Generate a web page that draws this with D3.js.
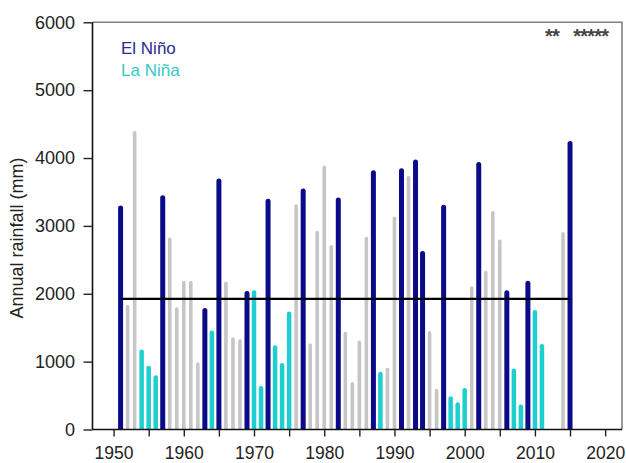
<!DOCTYPE html>
<html>
<head>
<meta charset="utf-8">
<script src="https://cdn.jsdelivr.net/npm/d3@7"></script>
<style>
  html, body { margin: 0; padding: 0; background: #fff; }
  svg { display: block; font-family: "Liberation Sans", Arial, Helvetica, sans-serif; }
</style>
</head>
<body>
<svg id="chart" width="626" height="463"></svg>
<script>
// ---- Data ----
const years = [1951,1952,1953,1954,1955,1956,1957,1958,1959,1960,1961,1962,1963,1964,1965,1966,1967,1968,1969,1970,
  1971,1972,1973,1974,1975,1976,1977,1978,1979,1980,1981,1982,1983,1984,1985,1986,1987,1988,1989,1990,
  1991,1992,1993,1994,1995,1996,1997,1998,1999,2000,2001,2002,2003,2004,2005,2006,2007,2008,2009,2010,
  2011,2014,2015];
const rainfall = [3300,1840,4400,1180,940,800,3450,2830,1800,2190,2190,990,1790,1460,3700,2180,1360,1330,2040,2050,
  640,3400,1240,980,1740,3320,3550,1270,2930,3890,2720,3420,1440,700,1310,2840,3820,850,910,3140,
  3850,3740,3980,2630,1450,600,3310,490,400,610,2110,3940,2340,3220,2800,2050,900,370,2190,1760,
  1260,2910,4250];
// E = El Niño, L = La Niña, N = neutral
const phase = ["E","N","N","L","L","L","E","N","N","N","N","N","E","L","E","N","N","N","E","L",
  "L","E","L","L","L","N","E","N","N","N","N","E","N","N","N","N","E","L","N","N",
  "E","N","E","E","N","N","E","L","L","L","N","E","N","N","N","E","L","L","E","L",
  "L","N","E"];
const missingYears = [2012,2013,2016,2017,2018,2019,2020];
const meanRainfall = 1925;
const meanSpan = [1951, 2015];
const yTicks = [0,1000,2000,3000,4000,5000,6000];
const xTicks = [1950,1955,1960,1965,1970,1975,1980,1985,1990,1995,2000,2005,2010,2015,2020];
const legendLabels = ["El Niño","La Niña"];

// ---- Layout ----
const svg = d3.select("#chart");
const L = 92.5, R = 622, T = 22.3, B = 429.5;
const x = d3.scaleLinear().domain([1947, 2022.4]).range([L, R]);
const y = d3.scaleLinear().domain([0, 6000]).range([B, T]);

const colors = { E: "#0b0b8a", L: "#1fcfcf", N: "#c6c6c6" };
const widths = { E: 5, L: 4.5, N: 3.6 };

svg.append("defs").append("clipPath").attr("id", "plotclip")
  .append("rect").attr("x", L).attr("y", 0).attr("width", R - L).attr("height", B);

// Bars
const data = years.map((yr, i) => ({ year: yr, v: rainfall[i], p: phase[i] }));
svg.append("g").attr("clip-path", "url(#plotclip)")
  .selectAll("rect").data(data).join("rect")
  .attr("x", d => x(d.year) - widths[d.p] / 2)
  .attr("y", d => y(d.v))
  .attr("width", d => widths[d.p])
  .attr("height", d => B - y(d.v) + 6)
  .attr("rx", d => widths[d.p] / 2)
  .attr("fill", d => colors[d.p]);

// Mean line
svg.append("line")
  .attr("x1", x(meanSpan[0])).attr("x2", x(meanSpan[1]))
  .attr("y1", y(meanRainfall)).attr("y2", y(meanRainfall))
  .attr("stroke", "#000").attr("stroke-width", 2.2);

// Frame (top and right)
svg.append("path")
  .attr("d", `M${L},${T}H${R}V${B}`)
  .attr("fill", "none").attr("stroke", "#808080").attr("stroke-width", 1.6);

// Axes
const yAxis = d3.axisLeft(y).tickValues(yTicks).tickSize(9).tickPadding(8.5).tickFormat(d3.format("d"));
const gy = svg.append("g").attr("transform", `translate(${L},0)`).call(yAxis);
const xAxis = d3.axisBottom(x).tickValues(xTicks).tickSize(7).tickPadding(10)
  .tickFormat(d => d % 10 === 0 ? String(d) : "");
const gx = svg.append("g").attr("transform", `translate(0,${B})`).call(xAxis);

[gx, gy].forEach(g => {
  g.select(".domain").attr("stroke", "#111").attr("stroke-width", 1.6);
  g.selectAll(".tick line").attr("stroke", "#222").attr("stroke-width", 1.4);
  g.selectAll(".tick text").attr("font-size", 18).attr("fill", "#222")
    .attr("font-family", '"Liberation Sans", Arial, sans-serif');
});
gx.selectAll(".tick text").attr("font-size", 17.5);
gx.select(".domain").attr("d", `M${L},0H${R}`);
gy.select(".domain").attr("d", `M0,${T}V${B}`);

// Y axis title
svg.append("text")
  .attr("transform", `translate(17,238) rotate(-90)`)
  .attr("text-anchor", "middle").attr("dominant-baseline", "central")
  .attr("font-size", 18).attr("fill", "#222")
  .text("Annual rainfall (mm)");

// Legend
svg.append("text").attr("x", 121).attr("y", 53.5).attr("font-size", 17)
  .attr("fill", "#2a2a8e").text(legendLabels[0]);
svg.append("text").attr("x", 121).attr("y", 75.5).attr("font-size", 17)
  .attr("fill", "#35c9c9").text(legendLabels[1]);

// Missing-year asterisks
svg.append("g").selectAll("text").data(missingYears).join("text")
  .attr("x", d => x(d)).attr("y", 42.5)
  .attr("text-anchor", "middle").attr("font-size", 20).attr("font-weight", "bold")
  .attr("fill", "#444").text("*");
</script>
</body>
</html>
